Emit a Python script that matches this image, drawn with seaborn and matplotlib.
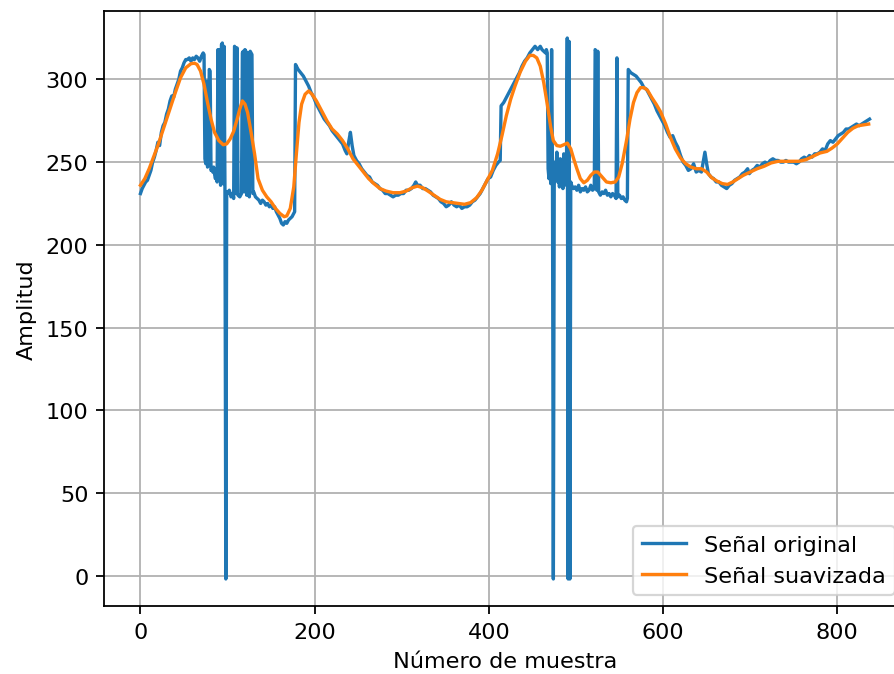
import matplotlib
matplotlib.use("Agg")
import matplotlib.pyplot as plt
import seaborn as sns

# Señal original (sample index, amplitude)
orig_x = [0, 2, 4, 6, 8, 10, 12, 14, 16, 18, 20, 22, 24, 26, 28, 30, 32, 34, 36, 38, 40, 42, 44, 46, 48, 50,
          52, 54, 56, 58, 60, 62, 64, 66, 68, 70, 72, 73, 74, 75, 76, 77, 78, 79, 80, 81, 82, 83, 84, 85, 86, 87,
          88, 89, 90, 91, 92, 93, 94, 95, 96, 97, 98, 99, 100, 102, 104, 106, 107, 108, 109, 110, 111, 112,
          114, 116, 117, 118, 119, 120, 121, 122, 123, 124, 125, 126, 127, 128, 129, 130, 132, 134, 136, 138,
          140, 142, 144, 146, 148, 150, 152, 154, 156, 158, 160, 162, 164, 166, 168, 170, 172, 174, 176, 177,
          178, 181, 184, 187, 190, 193, 196, 199, 202, 205, 208, 211, 214, 217, 220, 223, 226, 229, 232, 235,
          237, 239, 241, 243, 245, 248, 251, 254, 257, 260, 263, 266, 269, 272, 275, 278, 281, 284, 287, 290,
          293, 296, 299, 302, 305, 308, 311, 314, 316, 318, 321, 324, 327, 330, 333, 336, 339, 342, 345, 348,
          351, 354, 357, 360, 363, 366, 369, 372, 375, 378, 381, 384, 387, 390, 393, 396, 399, 402, 405, 408,
          411, 413, 414, 417, 420, 423, 426, 429, 432, 435, 438, 441, 444, 447, 450, 453, 456, 459, 461, 463,
          465, 466, 467, 468, 469, 470, 471, 472, 473, 474, 475, 476, 477, 478, 479, 480, 481, 482, 483, 484,
          485, 486, 487, 488, 489, 490, 491, 492, 493, 494, 495, 497, 499, 501, 503, 505, 507, 509, 511, 513,
          515, 517, 519, 521, 522, 523, 524, 525, 526, 528, 530, 532, 534, 536, 538, 540, 542, 544, 546, 547,
          548, 550, 552, 554, 556, 558, 559, 560, 563, 566, 569, 572, 575, 578, 581, 584, 587, 590, 593, 596,
          599, 602, 605, 608, 611, 614, 617, 620, 623, 626, 629, 632, 635, 638, 641, 644, 646, 648, 650, 652,
          655, 658, 661, 664, 667, 670, 673, 676, 679, 682, 685, 688, 691, 694, 697, 699, 702, 705, 708, 711,
          714, 717, 720, 723, 726, 729, 732, 735, 738, 741, 744, 747, 750, 753, 756, 759, 762, 765, 768, 771,
          774, 777, 780, 783, 786, 789, 792, 795, 798, 801, 804, 807, 810, 813, 816, 819, 822, 825, 828, 831,
          834, 837]
orig_y = [231, 234, 236, 238, 239, 242, 245, 250, 253, 257, 262, 260, 268, 272, 274, 279, 282, 287, 290, 289,
          294, 297, 300, 305, 307, 310, 312, 312, 313, 311, 313, 312, 314, 313, 311, 314, 316, 315, 252, 249,
          299, 247, 248, 306, 305, 245, 246, 244, 247, 243, 240, 242, 238, 318, 240, 318, 236, 321, 322, 237, 320,
          234, -2, 232, 231, 233, 229, 231, 228, 320, 319, 231, 319, 230, 229, 231, 316, 317, 232, 318, 317,
          230, 316, 316, 229, 317, 316, 315, 231, 232, 229, 228, 227, 225, 227, 226, 224, 225, 223, 224, 222,
          223, 220, 218, 216, 213, 212, 214, 213, 215, 216, 217, 219, 220, 309, 306, 304, 302, 299, 296, 292,
          289, 285, 282, 279, 276, 274, 272, 269, 267, 265, 263, 261, 257, 255, 262, 268, 260, 254, 251, 249,
          246, 244, 242, 241, 238, 237, 236, 234, 233, 231, 231, 230, 229, 230, 230, 231, 231, 233, 233, 234,
          236, 238, 236, 236, 234, 234, 233, 232, 230, 229, 228, 226, 225, 223, 224, 226, 224, 223, 224, 222,
          223, 223, 224, 226, 227, 229, 231, 234, 237, 240, 241, 245, 248, 250, 251, 284, 286, 289, 292, 295,
          298, 301, 304, 308, 311, 313, 316, 318, 320, 318, 320, 318, 317, 316, 318, 316, 246, 240, 252, 237,
          318, 244, -2, 236, 250, 241, 256, 238, 248, 235, 252, 240, 246, 234, 255, 240, 244, 236, 325, -2,
          323, -2, 238, 236, 234, 235, 233, 236, 232, 234, 233, 235, 232, 233, 236, 233, 234, 318, 317, 233,
          317, 232, 230, 232, 231, 233, 230, 231, 229, 231, 230, 228, 313, 229, 230, 228, 229, 227, 226, 228,
          306, 304, 303, 302, 300, 298, 295, 294, 291, 288, 285, 281, 278, 275, 272, 268, 265, 266, 262, 259,
          254, 250, 248, 245, 246, 249, 244, 245, 244, 250, 256, 249, 243, 241, 240, 238, 238, 236, 235, 234,
          236, 237, 239, 240, 241, 243, 244, 246, 243, 245, 246, 248, 247, 249, 250, 249, 251, 252, 251, 251,
          250, 250, 251, 250, 250, 250, 249, 250, 252, 253, 252, 254, 253, 255, 255, 256, 258, 257, 261, 263,
          262, 264, 266, 267, 268, 270, 270, 271, 272, 273, 272, 273, 274, 275, 276]

# Señal suavizada (sample index, amplitude)
suav_x = [0, 5, 10, 15, 20, 25, 30, 35, 40, 46, 52, 58, 62, 65, 69, 73, 77, 81, 85, 90, 95, 99, 103, 107,
          111, 114, 117, 120, 123, 127, 131, 135, 140, 145, 150, 155, 160, 165, 168, 172, 176, 179, 182, 185,
          189, 193, 197, 202, 208, 214, 220, 226, 232, 238, 244, 250, 256, 262, 268, 275, 282, 290, 298, 305,
          312, 318, 324, 330, 337, 344, 351, 358, 365, 372, 379, 386, 392, 398, 404, 410, 415, 420, 425, 430,
          436, 442, 447, 451, 455, 459, 463, 467, 471, 474, 478, 482, 486, 490, 494, 497, 501, 505, 509, 513,
          517, 521, 525, 530, 535, 540, 545, 549, 553, 558, 562, 566, 570, 574, 578, 582, 587, 592, 597, 603,
          608, 614, 620, 626, 632, 638, 644, 650, 656, 662, 668, 674, 680, 686, 692, 700, 708, 716, 724, 732,
          740, 748, 756, 764, 772, 780, 788, 794, 800, 806, 812, 818, 824, 830, 836]
suav_y = [236, 240, 246, 253, 260, 268, 276, 284, 292, 301, 307, 309.5, 309.8, 309, 305, 297, 286, 276,
          268, 263, 260.5, 261, 264, 268.6, 276, 282, 287, 285, 280, 268, 255, 240, 233, 229, 226, 222, 219,
          217, 217.5, 222, 235, 255, 274, 285, 291, 293, 291, 287, 281, 275, 270, 267, 263, 258, 252, 248,
          244, 240, 237, 234, 232.5, 231.5, 231.5, 232.5, 234.5, 235.5, 234.5, 232.5, 230, 227.5, 226, 225.5,
          225, 224.5, 225.5, 228.5, 233, 239, 245, 255, 266, 278, 288, 296, 304.5, 311, 314.5, 314.5, 313,
          308, 298, 285, 271, 263, 260, 259.6, 260.5, 261.5, 258, 252.6, 246, 240, 237.5, 239, 242, 244, 244,
          241, 238, 237.5, 238, 241, 249, 263, 276, 286, 292, 295, 295, 293.5, 289, 285, 280.5, 273,
          265.5, 258, 252.5, 249, 247, 246, 246, 244, 240.5, 238.5, 237, 236.5, 238, 240, 242, 244, 246,
          247.5, 249.5, 250.5, 250.5, 250.5, 250.5, 251.5, 253.5, 255.5, 256.5, 258.5, 261, 264.5, 268,
          270.5, 272, 272.5, 273]

DPI = 161
fig = plt.figure(figsize=(894 / DPI, 675 / DPI), dpi=DPI)
ax = fig.add_axes([104 / 894, 68 / 675, 802 / 894, 595 / 675])

sns.lineplot(x=orig_x, y=orig_y, ax=ax, color="#1f77b4", label="Señal original",
             sort=False, estimator=None, linewidth=1.5)
sns.lineplot(x=suav_x, y=suav_y, ax=ax, color="#ff7f0e", label="Señal suavizada",
             sort=False, estimator=None, linewidth=1.5)

ax.grid(True)
ax.set_xticks([0, 200, 400, 600, 800])
ax.set_yticks([0, 50, 100, 150, 200, 250, 300])
ax.set_xlabel("Número de muestra")
ax.set_ylabel("Amplitud")
ax.legend(loc="lower right")

fig.savefig("out.png", dpi=DPI)
